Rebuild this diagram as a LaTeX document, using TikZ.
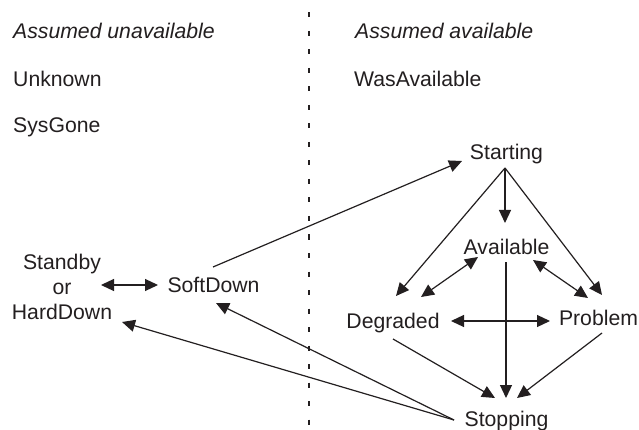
\documentclass[tikz,border=0pt]{standalone}
\usepackage{fontspec}
\setmainfont{Liberation Sans}
\usetikzlibrary{arrows.meta,calc}
\definecolor{ink}{HTML}{231F20}
\begin{document}
\begin{tikzpicture}[x=1pt,y=-1pt,
  lbl/.style={inner sep=0pt, text=ink, font=\fontsize{21.2}{25}\selectfont},
  hdr/.style={inner sep=0pt, text=ink, font=\fontsize{21.2}{25}\selectfont\itshape},
  conn/.style={draw=ink, line width=1.2pt},
  arr/.style={conn, -{Triangle[length=13pt,width=12pt]}},
  darr/.style={conn, {Triangle[length=13pt,width=12pt]}-{Triangle[length=13pt,width=12pt]}},
  divider/.style={draw=ink, line width=2.5pt, dash pattern=on 5pt off 13.5pt}]
\useasboundingbox (0,0) rectangle (639,430);
\fill[white] (0,0) rectangle (639,430);
% divider
\draw[divider] (309,-6) -- (309,440);
% labels
\node[hdr, anchor=base west] (hdrU) at (13,39) {Assumed unavailable};
\node[lbl, anchor=base west] (unknown) at (13,87) {Unknown};
\node[lbl, anchor=base west] (sysgone) at (13,133) {SysGone};
\node[hdr, anchor=base west] (hdrA) at (355,39) {Assumed available};
\node[lbl, anchor=base west] (was) at (354,87) {WasAvailable};
% states
\node[lbl, anchor=base] (starting) at (506.5,160) {Starting};
\node[lbl, anchor=base] (available) at (506.5,254) {Available};
\node[lbl, anchor=base] (degraded) at (393,328) {Degraded};
\node[lbl, anchor=base] (problem) at (598.5,325) {Problem};
\node[lbl, anchor=base] (stopping) at (506.5,426) {Stopping};
\node[lbl, anchor=base] (softdown) at (213.5,292) {SoftDown};
\node[lbl, anchor=north, align=center] (standby) at (62,254) {Standby\\or\\HardDown};
% connectors
\draw[darr] ($(standby.north)+(39,31)$) -- ($(softdown.base)+(-55.5,-7)$);
\draw[arr] ($(softdown.base)+(-0.5,-25)$) -- ($(starting.base)+(-44.5,1)$);
\draw[arr] ($(stopping.base)+(-52.5,-6)$) -- ($(softdown.base)+(2.5,11)$);
\draw[arr] ($(stopping.base)+(-52.5,-6)$) -- ($(standby.north)+(60,68)$);
\draw[arr] ($(starting.base)+(-1.5,8)$) -- ($(degraded.base)+(3,-32)$);
\draw[arr] ($(starting.base)+(-1.5,8)$) -- ($(available.base)+(-1.5,-31)$);
\draw[arr] ($(starting.base)+(-1.5,8)$) -- ($(problem.base)+(3.5,-30)$);
\draw[darr] ($(available.base)+(-28.5,3)$) -- ($(degraded.base)+(28,-31)$);
\draw[darr] ($(available.base)+(26.5,6)$) -- ($(problem.base)+(-10.5,-27)$);
\draw[darr] ($(degraded.base)+(58,-7)$) -- ($(problem.base)+(-48.5,-4)$);
\draw[arr] ($(available.base)+(-0.5,8)$) -- ($(stopping.base)+(-0.5,-28)$);
\draw[arr] ($(degraded.base)+(0,11)$) -- ($(stopping.base)+(-11.5,-28)$);
\draw[arr] ($(problem.base)+(3.5,8)$) -- ($(stopping.base)+(10.5,-28)$);
\end{tikzpicture}
\end{document}
